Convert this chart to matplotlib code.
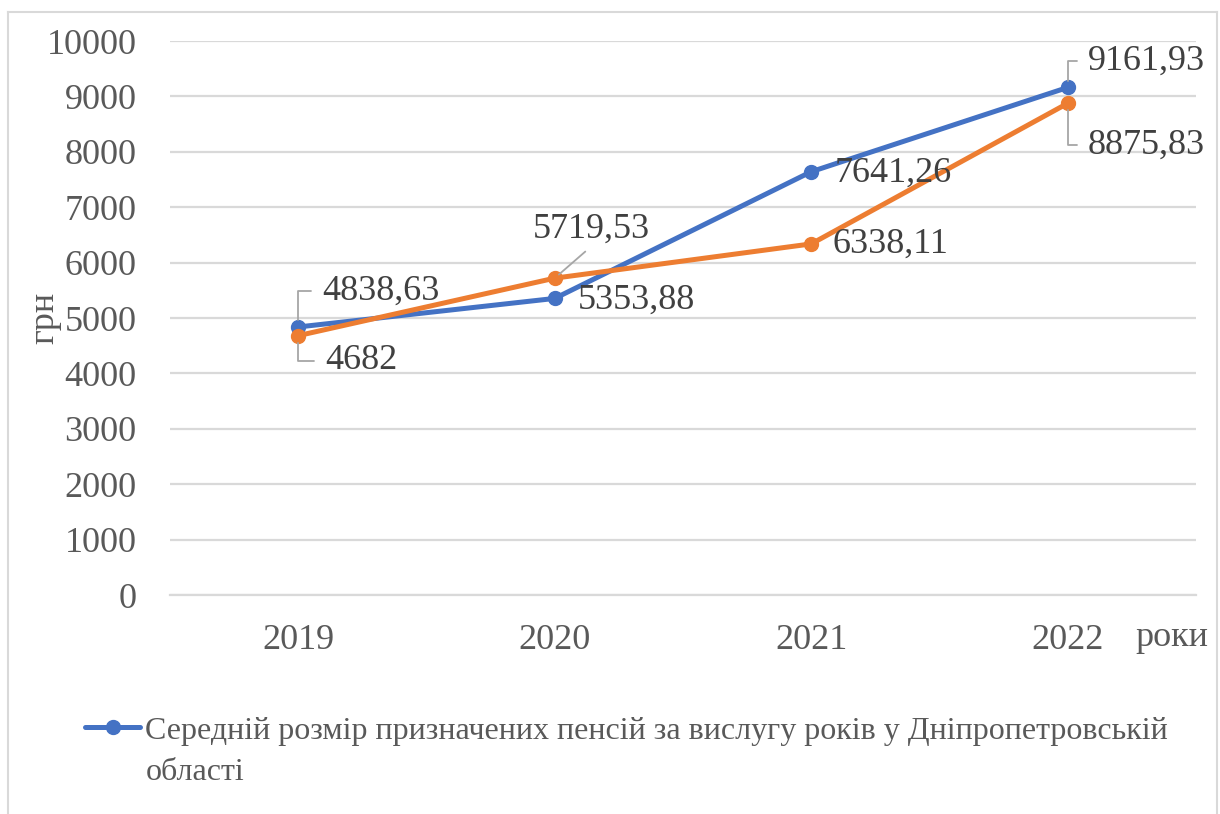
import numpy as np
import matplotlib.pyplot as plt
from matplotlib.lines import Line2D

plt.rcParams['font.family'] = ['Liberation Serif', 'DejaVu Serif']

years = ['2019', '2020', '2021', '2022']
dnipro = [4838.63, 5353.88, 7641.26, 9161.93]
other = [4682, 5719.53, 6338.11, 8875.83]
dnipro_label = 'Середній розмір призначених пенсій за вислугу років у Дніпропетровській'
dnipro_label_2 = 'області'
y_ticks = list(range(0, 10001, 1000))

blue = '#4472C4'
orange = '#ED7D31'
grid_c = '#D9D9D9'
txt_c = '#595959'
lbl_c = '#404040'


def fmt(v):
    s = ('%.2f' % v).rstrip('0').rstrip('.')
    return s.replace('.', ',')


fig = plt.figure(figsize=(12.2, 8.14), dpi=100)
ax = fig.add_axes([0.1393, 0.2690, 0.8410, 0.6806])

x = np.arange(len(years))
ax.plot(x, dnipro, color=blue, lw=3.6, marker='o', ms=10, label=dnipro_label,
        solid_capstyle='round', zorder=3)
ax.plot(x, other, color=orange, lw=3.6, marker='o', ms=10, label='_other',
        solid_capstyle='round', zorder=4)

ax.set_xlim(-0.5, len(years) - 0.5)
ax.set_ylim(0, 10000)
ax.set_xticks(x)
ax.set_xticklabels(years)
ax.set_yticks(y_ticks)
ax.tick_params(length=0, labelsize=26, colors=txt_c)
ax.tick_params(axis='y', pad=24)
ax.tick_params(axis='x', pad=21)
ax.grid(axis='y', color=grid_c, lw=1.6)
ax.set_axisbelow(True)
for s in ['top', 'right', 'left']:
    ax.spines[s].set_visible(False)
ax.spines['bottom'].set_color(grid_c)
ax.spines['bottom'].set_linewidth(1.6)

ax.set_ylabel('грн', fontsize=26, color=txt_c)
ax.yaxis.set_label_coords(-0.106, 0.5)
ax.text(0.9405, -0.0775, 'роки', transform=ax.transAxes, fontsize=26,
        color=txt_c, ha='left', va='center')

# data labels: (series, index, offset in points, leader style)
lead = dict(arrowstyle='-', color='#A6A6A6', lw=1.3)
labels = [
    (dnipro, 0, (17, 26), 'bracket'),
    (other, 0, (19.5, -18), 'bracket'),
    (other, 1, (26.6, 35), 'straight'),
    (dnipro, 1, (16.5, -1.5), None),
    (dnipro, 2, (17, -1), None),
    (other, 2, (15, 0), None),
    (dnipro, 3, (14.4, 19), 'bracket'),
    (other, 3, (14.4, -30), 'bracket'),
]
for series, i, off, style in labels:
    kw = dict(textcoords='offset points', fontsize=26, color=lbl_c, va='center')
    if style == 'bracket':
        kw['arrowprops'] = dict(lead, connectionstyle='angle,angleA=0,angleB=90,rad=0',
                                relpos=(0, 0.5), shrinkA=6, shrinkB=5)
        kw['ha'] = 'left'
    elif style == 'straight':
        kw['arrowprops'] = dict(lead, relpos=(0.5, 0), shrinkA=3, shrinkB=4)
        kw['ha'] = 'center'
    else:
        kw['ha'] = 'left'
    ax.annotate(fmt(series[i]), xy=(x[i], series[i]), xytext=off, zorder=5, **kw)

leg = fig.legend(loc='center left', bbox_to_anchor=(0.0595, 0.1020), fontsize=23,
                 frameon=False, handlelength=1.72, handletextpad=0.16,
                 labelcolor=txt_c, borderaxespad=0)

# second line of the legend entry, under the first one
fig.canvas.draw()
bb = leg.get_texts()[0].get_window_extent()
fig.text(bb.x0 / 1220, (bb.y0 + bb.height / 2 - 41) / 814, dnipro_label_2,
         fontsize=23, color=txt_c, ha='left', va='center')

# chart border (open at the bottom)
for xs, ys in [((8, 8), (0, 802)), ((8, 1217), (802, 802)), ((1217, 1217), (802, 0))]:
    fig.add_artist(Line2D([v / 1220 for v in xs], [v / 814 for v in ys],
                          color=grid_c, lw=1.5))

plt.savefig('out.png')
